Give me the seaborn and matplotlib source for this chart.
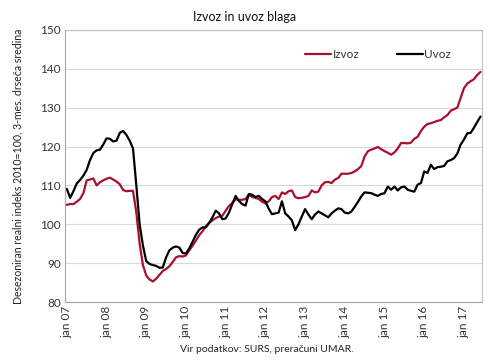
import numpy as np
import pandas as pd
import matplotlib
matplotlib.use('Agg')
import matplotlib.pyplot as plt
import seaborn as sns

# mesečni podatki jan 2007 - jun 2017 (odčitano iz grafa)
izvoz = [105.0, 105.2, 105.2, 105.8, 106.5, 108.0, 111.3, 111.5, 111.8, 110.0, 110.8, 111.3,
         111.7, 112.0, 111.5, 111.0, 110.3, 108.8, 108.5, 108.6, 108.6, 103.0, 95.0, 89.5,
         86.8, 85.8, 85.3, 86.0, 87.0, 88.0, 88.5, 89.2, 90.3, 91.5, 91.8, 91.7,
         92.0, 93.3, 94.5, 95.8, 97.2, 98.2, 99.5, 100.4, 101.0, 101.6, 102.0, 102.2,
         103.5, 104.7, 105.5, 106.4, 106.3, 106.3, 106.5, 107.6, 107.0, 106.8, 106.5, 105.8,
         105.4, 105.9, 107.0, 107.3, 106.5, 108.2, 107.8, 108.5, 108.7, 107.0, 106.7, 106.8,
         107.0, 107.3, 108.7, 108.2, 108.4, 110.0, 110.8, 110.9, 110.6, 111.5, 111.9, 113.0,
         113.0, 113.0, 113.2, 113.6, 114.2, 115.0, 117.5, 118.8, 119.2, 119.5, 119.9, 119.3,
         118.8, 118.4, 117.9, 118.5, 119.5, 120.9, 120.9, 120.8, 121.0, 122.0, 122.5, 124.0,
         125.1, 125.8, 126.0, 126.3, 126.6, 126.8, 127.5, 128.1, 129.2, 129.6, 130.0, 132.5,
         135.0, 136.2, 136.8, 137.3, 138.4, 139.2]
uvoz = [109.1, 106.8, 108.5, 110.5, 111.4, 112.5, 114.0, 116.5, 118.3, 119.0, 119.2, 120.5,
        122.1, 122.0, 121.3, 121.5, 123.5, 124.0, 123.0, 121.5, 119.5, 110.0, 100.0, 94.5,
        90.5, 89.8, 89.5, 89.3, 88.8, 88.9, 91.5, 93.3, 94.0, 94.3, 94.0, 92.6,
        92.5, 93.8, 95.5, 97.3, 98.6, 99.2, 99.2, 100.3, 101.8, 103.5, 102.8, 101.3,
        101.5, 103.0, 105.2, 107.3, 106.0, 105.2, 104.8, 107.8, 107.6, 107.0, 107.3, 106.5,
        105.9, 104.0, 102.6, 102.8, 103.0, 105.9, 102.8, 102.0, 101.0, 98.5, 100.0, 102.0,
        103.9, 102.5, 101.3, 102.5, 103.3, 102.8, 102.3, 101.8, 102.8, 103.5, 104.1, 103.9,
        103.0, 102.8, 103.3, 104.5, 105.8, 107.2, 108.2, 108.1, 108.0, 107.6, 107.3, 107.8,
        108.0, 109.7, 108.9, 109.7, 108.7, 109.5, 109.7, 108.9, 108.6, 108.4, 110.2, 110.6,
        113.6, 113.2, 115.3, 114.2, 114.7, 114.8, 115.0, 116.2, 116.5, 117.0, 118.2, 120.5,
        121.8, 123.4, 123.5, 124.8, 126.3, 127.7]
tick_labels = ['jan 07', 'jan 08', 'jan 09', 'jan 10', 'jan 11', 'jan 12',
               'jan 13', 'jan 14', 'jan 15', 'jan 16', 'jan 17']

mesec = np.arange(len(izvoz))
df = pd.DataFrame({'mesec': np.concatenate([mesec, mesec]),
                   'vrednost': izvoz + uvoz,
                   'serija': ['Izvoz'] * len(izvoz) + ['Uvoz'] * len(uvoz)})

sns.set_style('white')
plt.rcParams['font.family'] = ['Lato', 'DejaVu Sans']

fig = plt.figure(figsize=(4.9, 3.6), dpi=100)
ax = fig.add_axes([0.133, 0.161, 0.851, 0.756])

sns.lineplot(data=df, x='mesec', y='vrednost', hue='serija',
             palette={'Izvoz': '#A8102E', 'Uvoz': '#000000'},
             linewidth=1.6, ax=ax)

ax.set_xlim(-0.5, len(izvoz) - 0.5)
ax.set_ylim(80, 150)
ax.set_yticks(range(80, 151, 10))
ax.set_xticks(range(0, len(izvoz), 12))
ax.set_xticklabels(tick_labels, rotation=90)
ax.tick_params(axis='both', labelsize=8.5, colors='#333333', length=0, pad=3)
ax.grid(axis='y', color='#D9D9D9', linewidth=0.8)
ax.set_axisbelow(True)
for s in ax.spines.values():
    s.set_color('#BFBFBF')
    s.set_linewidth(0.8)
ax.spines['left'].set_color('#A6A6A6')
ax.spines['bottom'].set_color('#A6A6A6')

ax.set_xlabel('')
ax.set_ylabel('Desezoniran realni indeks 2010=100, 3-mes. drseča sredina',
              fontsize=7.6, color='#222222')
ax.yaxis.set_label_coords(-0.1, 0.5)

ax.legend(loc='upper right', bbox_to_anchor=(0.95, 0.97), ncol=2, frameon=False,
          fontsize=8.5, handlelength=2.2, handletextpad=0.1, columnspacing=3.2,
          labelcolor='#333333')

fig.text(0.5, 0.952, 'Izvoz in uvoz blaga', ha='center', va='center',
         fontsize=9, color='#111111')
fig.text(0.545, 0.03, 'Vir podatkov: SURS, preračuni UMAR.', ha='center', va='center',
         fontsize=7.5, color='#222222')

fig.savefig('out.png', dpi=100)
